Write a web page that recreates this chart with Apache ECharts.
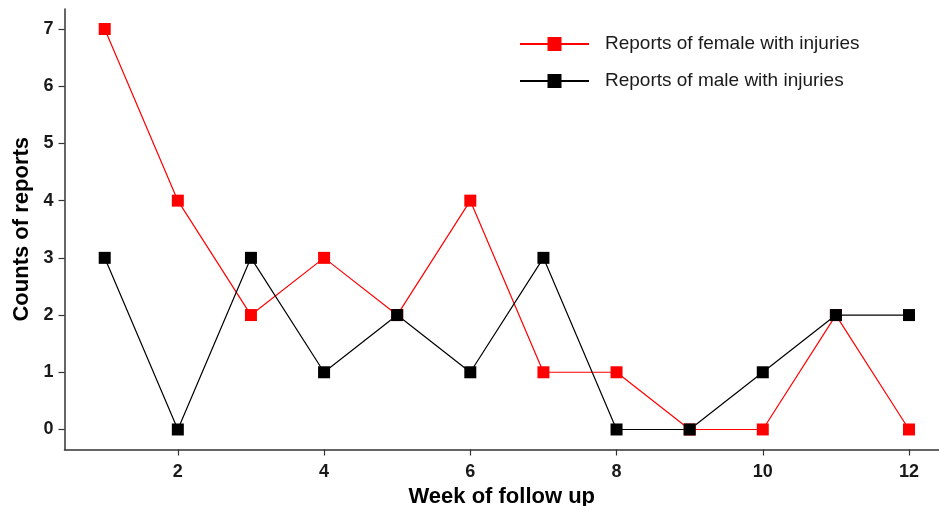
<!DOCTYPE html>
<html>
<head>
<meta charset="utf-8">
<script src="https://cdn.jsdelivr.net/npm/echarts@6/dist/echarts.min.js"></script>
<style>html,body{margin:0;padding:0;background:#fff}#c{width:939px;height:506px}</style>
</head>
<body>
<div id="c"></div>
<script>
var weeks = [1,2,3,4,5,6,7,8,9,10,11,12];
var female = [7,4,2,3,2,4,1,1,0,0,2,0];
var male = [3,0,3,1,2,1,3,0,0,1,2,2];
var xTicks = [2,4,6,8,10,12];
var yTicks = [0,1,2,3,4,5,6,7];

function pairs(v){ return weeks.map(function(w,i){ return [w, v[i]]; }); }

var chart = echarts.init(document.getElementById('c'), null, {renderer:'canvas'});
var axisCommon = {
  axisLine:{show:true, onZero:false, lineStyle:{color:'#333', width:1.5}},
  axisTick:{show:true, length:6, lineStyle:{color:'#333', width:1.2}},
  splitLine:{show:false},
  axisLabel:{fontFamily:'Liberation Sans, Arial', fontWeight:'bold', fontSize:18, color:'#1a1a1a'},
  nameLocation:'middle',
  nameTextStyle:{fontFamily:'Liberation Sans, Arial', fontWeight:'bold', fontSize:22, color:'#000'}
};
chart.setOption({
  animation:false,
  grid:{left:64.5, right:0, top:9, bottom:56.5, containLabel:false, outerBoundsMode:'none'},
  xAxis: Object.assign({}, axisCommon, {
    type:'value', min:0.45, max:12.41, name:'Week of follow up', nameGap:31,
    axisTick:Object.assign({}, axisCommon.axisTick, {customValues:xTicks}),
    axisLabel:Object.assign({}, axisCommon.axisLabel, {customValues:xTicks, margin:14})
  }),
  yAxis: Object.assign({}, axisCommon, {
    type:'value', min:-0.35, max:7.35, name:'Counts of reports', nameGap:32,
    axisTick:Object.assign({}, axisCommon.axisTick, {customValues:yTicks}),
    axisLabel:Object.assign({}, axisCommon.axisLabel, {customValues:yTicks, margin:11})
  }),
  legend:{
    orient:'vertical', left:514, top:29.5, itemWidth:69, itemHeight:17.5, itemGap:18,
    textStyle:{fontFamily:'Liberation Sans, Arial', fontSize:19, lineHeight:19, color:'#1a1a1a', padding:[0,0,0,11]},
    data:['Reports of female with injuries','Reports of male with injuries']
  },
  series:[
    {name:'Reports of female with injuries', type:'line', data:pairs(female), symbol:'rect', symbolSize:12,
     itemStyle:{color:'#ff0000'}, lineStyle:{color:'#ff0000', width:1.2}},
    {name:'Reports of male with injuries', type:'line', data:pairs(male), symbol:'rect', symbolSize:12,
     itemStyle:{color:'#000000'}, lineStyle:{color:'#000000', width:1.2}}
  ]
});
</script>
</body>
</html>
